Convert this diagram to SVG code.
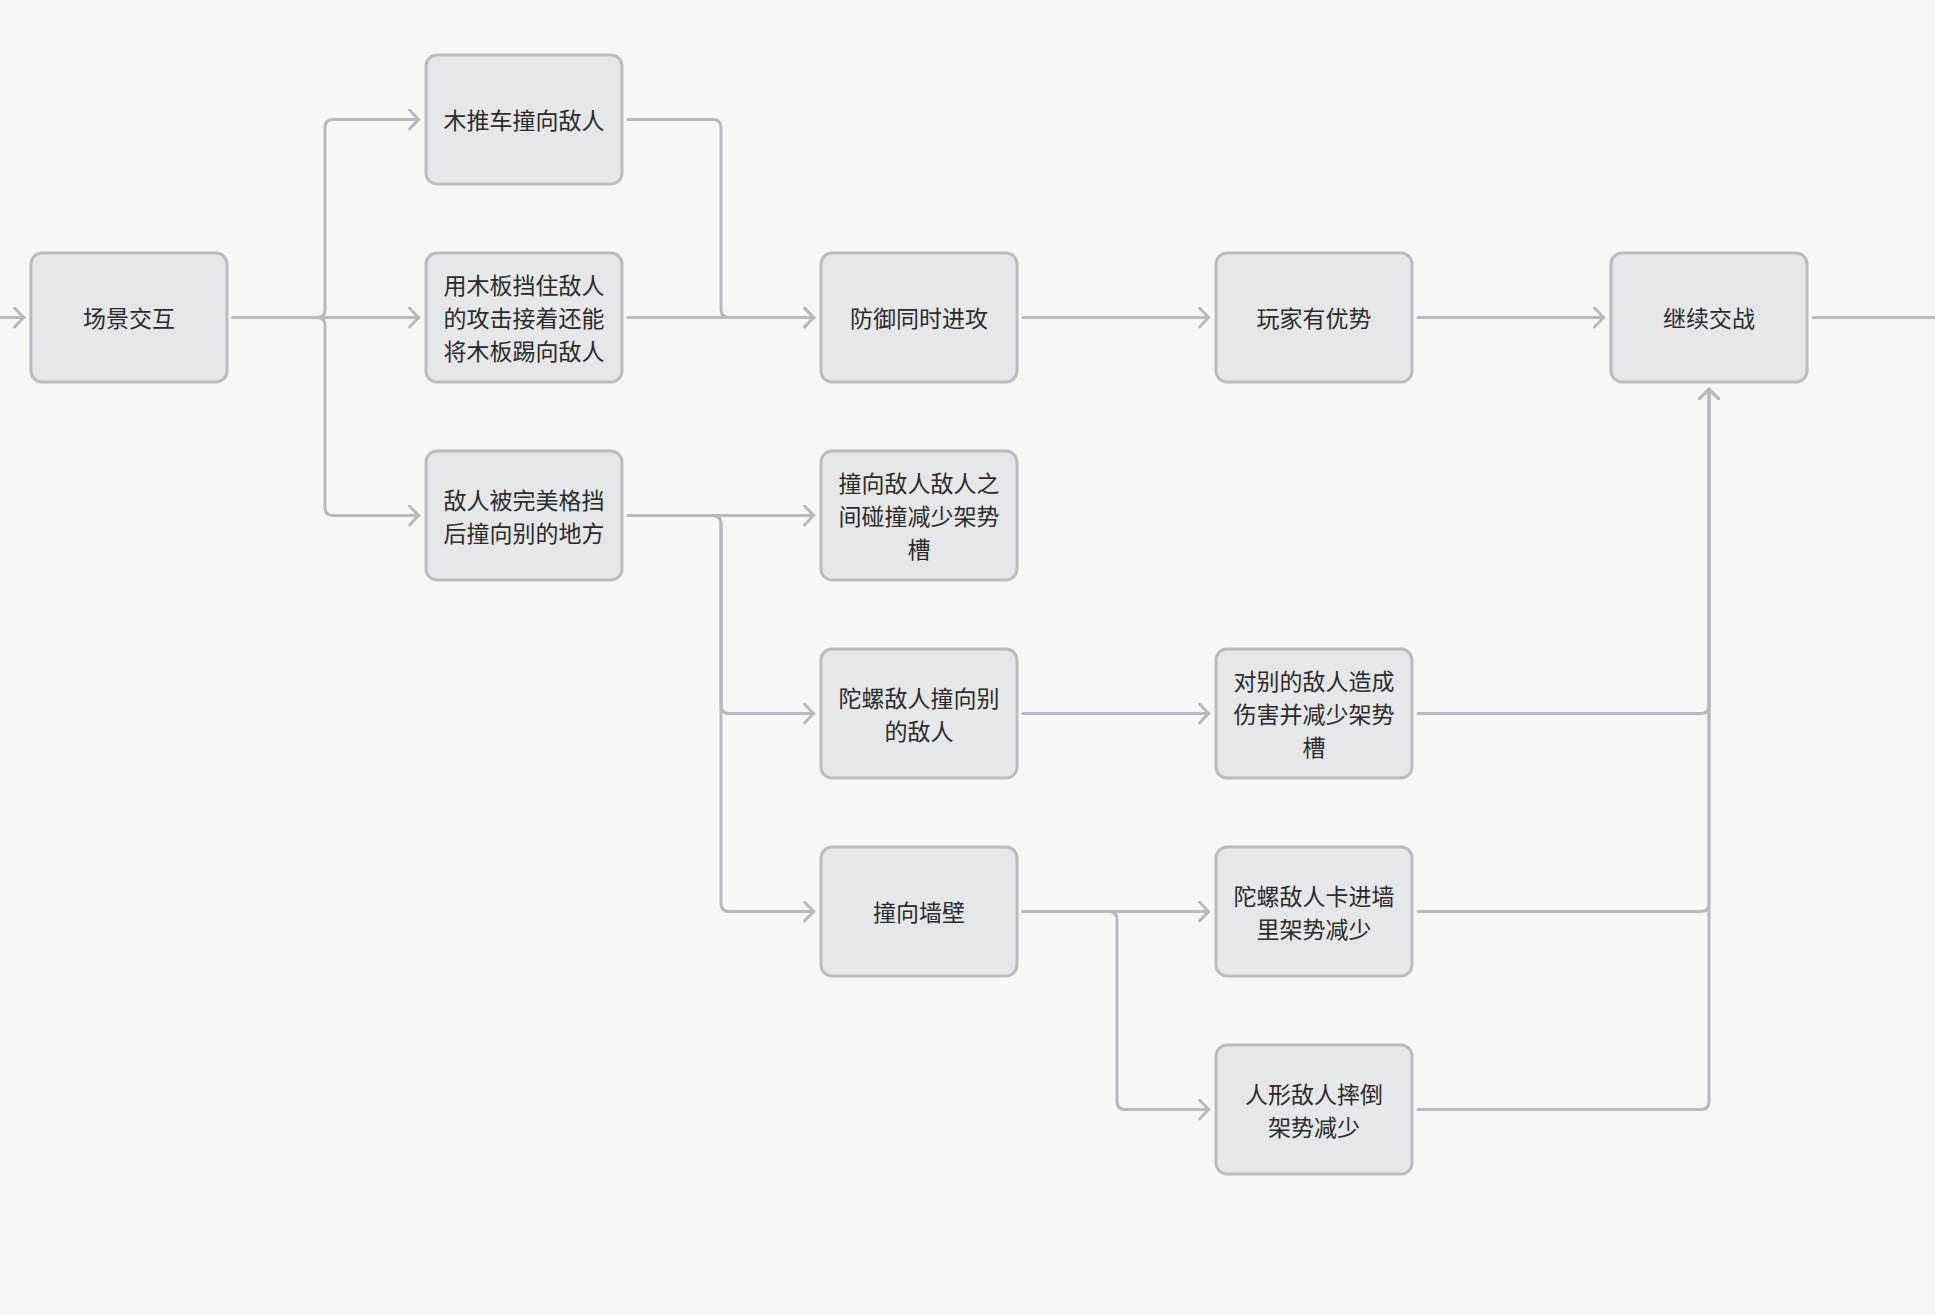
<svg xmlns="http://www.w3.org/2000/svg" width="1935" height="1315" viewBox="0 0 1935 1315">
<defs>
<style>
.node rect{fill:#e6e7e9;stroke:#bbbcbf;stroke-width:3}
.node text{font-family:"Noto Sans CJK SC","Noto Sans",sans-serif;font-size:23px;fill:#2b2b2b;text-anchor:middle}
.edge{fill:none;stroke:#b9babd;stroke-width:3;stroke-linecap:round;stroke-linejoin:round}
.arr{marker-end:url(#ah)}
</style>
<marker id="ah" viewBox="0 0 12 22" refX="11" refY="11" markerWidth="12" markerHeight="22" markerUnits="userSpaceOnUse" orient="auto">
<path d="M1.5,1.5 L10.5,11 L1.5,20.5" fill="none" stroke="#b9babd" stroke-width="3" stroke-linecap="round" stroke-linejoin="round"/>
</marker>
</defs>
<rect x="0" y="0" width="1935" height="1315" fill="#f6f7f7"/>
<g id="connectors">
<path class="edge arr" d="M0,317.5 H24"/>
<path class="edge arr" d="M233,317.5 H317 Q325,317.5 325,309.5 V127.5 Q325,119.5 333,119.5 H419"/>
<path class="edge arr" d="M233,317.5 H419"/>
<path class="edge arr" d="M233,317.5 H317 Q325,317.5 325,325.5 V507.5 Q325,515.5 333,515.5 H419"/>
<path class="edge arr" d="M628,119.5 H713 Q721,119.5 721,127.5 V309.5 Q721,317.5 729,317.5 H814"/>
<path class="edge arr" d="M628,317.5 H814"/>
<path class="edge arr" d="M628,515.5 H814"/>
<path class="edge arr" d="M628,515.5 H713 Q721,515.5 721,523.5 V705.5 Q721,713.5 729,713.5 H814"/>
<path class="edge arr" d="M628,515.5 H713 Q721,515.5 721,523.5 V903.5 Q721,911.5 729,911.5 H814"/>
<path class="edge arr" d="M1023,317.5 H1209"/>
<path class="edge arr" d="M1418,317.5 H1604"/>
<path class="edge" d="M1813,317.5 H1935"/>
<path class="edge arr" d="M1023,713.5 H1209"/>
<path class="edge arr" d="M1023,911.5 H1209"/>
<path class="edge arr" d="M1023,911.5 H1109 Q1117,911.5 1117,919.5 V1101.5 Q1117,1109.5 1125,1109.5 H1209"/>
<path class="edge arr" d="M1418,713.5 H1701 Q1709,713.5 1709,705.5 V389"/>
<path class="edge arr" d="M1418,911.5 H1701 Q1709,911.5 1709,903.5 V389"/>
<path class="edge arr" d="M1418,1109.5 H1701 Q1709,1109.5 1709,1101.5 V389"/>
</g>
<g id="n-scene" class="node"><rect x="31" y="253" width="196" height="129" rx="11"/><text x="129" y="327">场景交互</text></g>
<g id="n-cart" class="node"><rect x="426" y="55" width="196" height="129" rx="11"/><text x="524" y="129">木推车撞向敌人</text></g>
<g id="n-board" class="node"><rect x="426" y="253" width="196" height="129" rx="11"/><text x="524" y="294">用木板挡住敌人</text><text x="524" y="327">的攻击接着还能</text><text x="524" y="360">将木板踢向敌人</text></g>
<g id="n-parry" class="node"><rect x="426" y="451" width="196" height="129" rx="11"/><text x="524" y="508.5">敌人被完美格挡</text><text x="524" y="541.5">后撞向别的地方</text></g>
<g id="n-defend" class="node"><rect x="821" y="253" width="196" height="129" rx="11"/><text x="919" y="327">防御同时进攻</text></g>
<g id="n-collide" class="node"><rect x="821" y="451" width="196" height="129" rx="11"/><text x="919" y="492">撞向敌人敌人之</text><text x="919" y="525">间碰撞减少架势</text><text x="919" y="558">槽</text></g>
<g id="n-top" class="node"><rect x="821" y="649" width="196" height="129" rx="11"/><text x="919" y="706.5">陀螺敌人撞向别</text><text x="919" y="739.5">的敌人</text></g>
<g id="n-wall" class="node"><rect x="821" y="847" width="196" height="129" rx="11"/><text x="919" y="921">撞向墙壁</text></g>
<g id="n-adv" class="node"><rect x="1216" y="253" width="196" height="129" rx="11"/><text x="1314" y="327">玩家有优势</text></g>
<g id="n-dmg" class="node"><rect x="1216" y="649" width="196" height="129" rx="11"/><text x="1314" y="690">对别的敌人造成</text><text x="1314" y="723">伤害并减少架势</text><text x="1314" y="756">槽</text></g>
<g id="n-stuck" class="node"><rect x="1216" y="847" width="196" height="129" rx="11"/><text x="1314" y="904.5">陀螺敌人卡进墙</text><text x="1314" y="937.5">里架势减少</text></g>
<g id="n-fall" class="node"><rect x="1216" y="1045" width="196" height="129" rx="11"/><text x="1314" y="1102.5">人形敌人摔倒</text><text x="1314" y="1135.5">架势减少</text></g>
<g id="n-cont" class="node"><rect x="1611" y="253" width="196" height="129" rx="11"/><text x="1709" y="327">继续交战</text></g>
</svg>
